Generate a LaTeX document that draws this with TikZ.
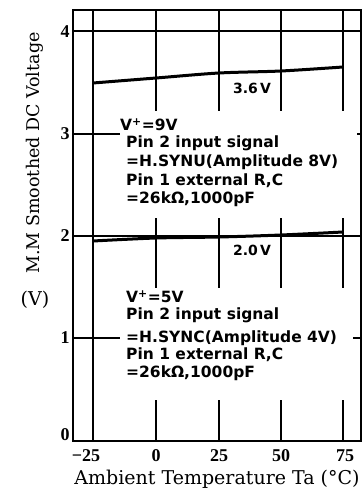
\documentclass[tikz,border=0pt]{standalone}
\usepackage{fontspec}
\setmainfont{Liberation Serif}
\newfontfamily\annfont{DejaVu Sans}
\newfontfamily\titfont{DejaVu Serif}
\begin{document}
\begin{tikzpicture}[x=1pt,y=-1pt,
  frame/.style={line width=2pt},
  grid/.style={line width=1.4pt},
  curve/.style={line width=3pt},
  ann/.style={anchor=west,inner sep=0pt,font=\annfont\bfseries\fontsize{15.5}{18}\selectfont},
  tick/.style={inner sep=0pt,font=\bfseries\fontsize{18}{20}\selectfont},
  val/.style={inner sep=0pt,font=\annfont\bfseries\fontsize{14}{16}\selectfont},
  title/.style={inner sep=0pt,font=\titfont\fontsize{19}{21}\selectfont}]
\useasboundingbox (0,0) rectangle (363,495);
% grid
\draw[grid] (73,31) -- (361,31);
\draw[grid] (73,236) -- (361,236);
\draw[grid] (73,134) -- (120,134);
\draw[grid] (357,134) -- (361,134);
\draw[grid] (73,338) -- (120,338);
\draw[grid] (353,338) -- (361,338);
\draw[grid] (93,10) -- (93,441);
\foreach \x in {156,219,281,343}{
  \draw[grid] (\x,10) -- (\x,111);
  \draw[grid] (\x,218) -- (\x,288);
  \draw[grid] (\x,400) -- (\x,441);
}
% frame
\draw[frame] (73,10) rectangle (361,441);
% curves
\draw[curve] plot[smooth] coordinates {(93,83) (156,78) (219,73) (281,71) (343,67)};
\draw[curve] plot[smooth] coordinates {(93,241) (156,238) (219,237) (281,235) (343,232)};
\node[val] (v36) at (252,88) {3.6\,V};
\node[val] (v20) at (252,250) {2.0\,V};
% annotations
\node[ann] (a1) at (120,125) {V\textsuperscript{+}=9V};
\node[ann] (a2) at (126,143) {Pin 2 input signal};
\node[ann] (a3) at (126,162) {=H.SYNU(Amplitude 8V)};
\node[ann] (a4) at (126,181) {Pin 1 external R,C};
\node[ann] (a5) at (126,199) {=26k\symbol{"03A9},1000pF};
\node[ann] (b1) at (126,297) {V\textsuperscript{+}=5V};
\node[ann] (b2) at (126,315) {Pin 2 input signal};
\node[ann] (b3) at (126,338) {=H.SYNC(Amplitude 4V)};
\node[ann] (b4) at (126,355) {Pin 1 external R,C};
\node[ann] (b5) at (126,373) {=26k\symbol{"03A9},1000pF};
% y ticks
\node[tick] (y4) at (65,32) {4};
\node[tick] (y3) at (65,134) {3};
\node[tick] (y2) at (65,236) {2};
\node[tick] (y1) at (65,338) {1};
\node[tick] (y0) at (65,435) {0};
% x ticks
\node[tick] (xm25) at (86,456) {\symbol{"2212}25};
\node[tick] (x0) at (156,456) {0};
\node[tick] (x25) at (219,456) {25};
\node[tick] (x50) at (281,456) {50};
\node[tick] (x75) at (345,456) {75};
% titles
\node[title] (xt) at (217,479) {Ambient Temperature Ta (\textdegree C)};
\node[title,rotate=90,font=\titfont\fontsize{17.5}{20}\selectfont] (yt) at (35,153) {M.M Smoothed DC Voltage};
\node[title] (yu) at (35,300) {(V)};
\end{tikzpicture}
\end{document}
